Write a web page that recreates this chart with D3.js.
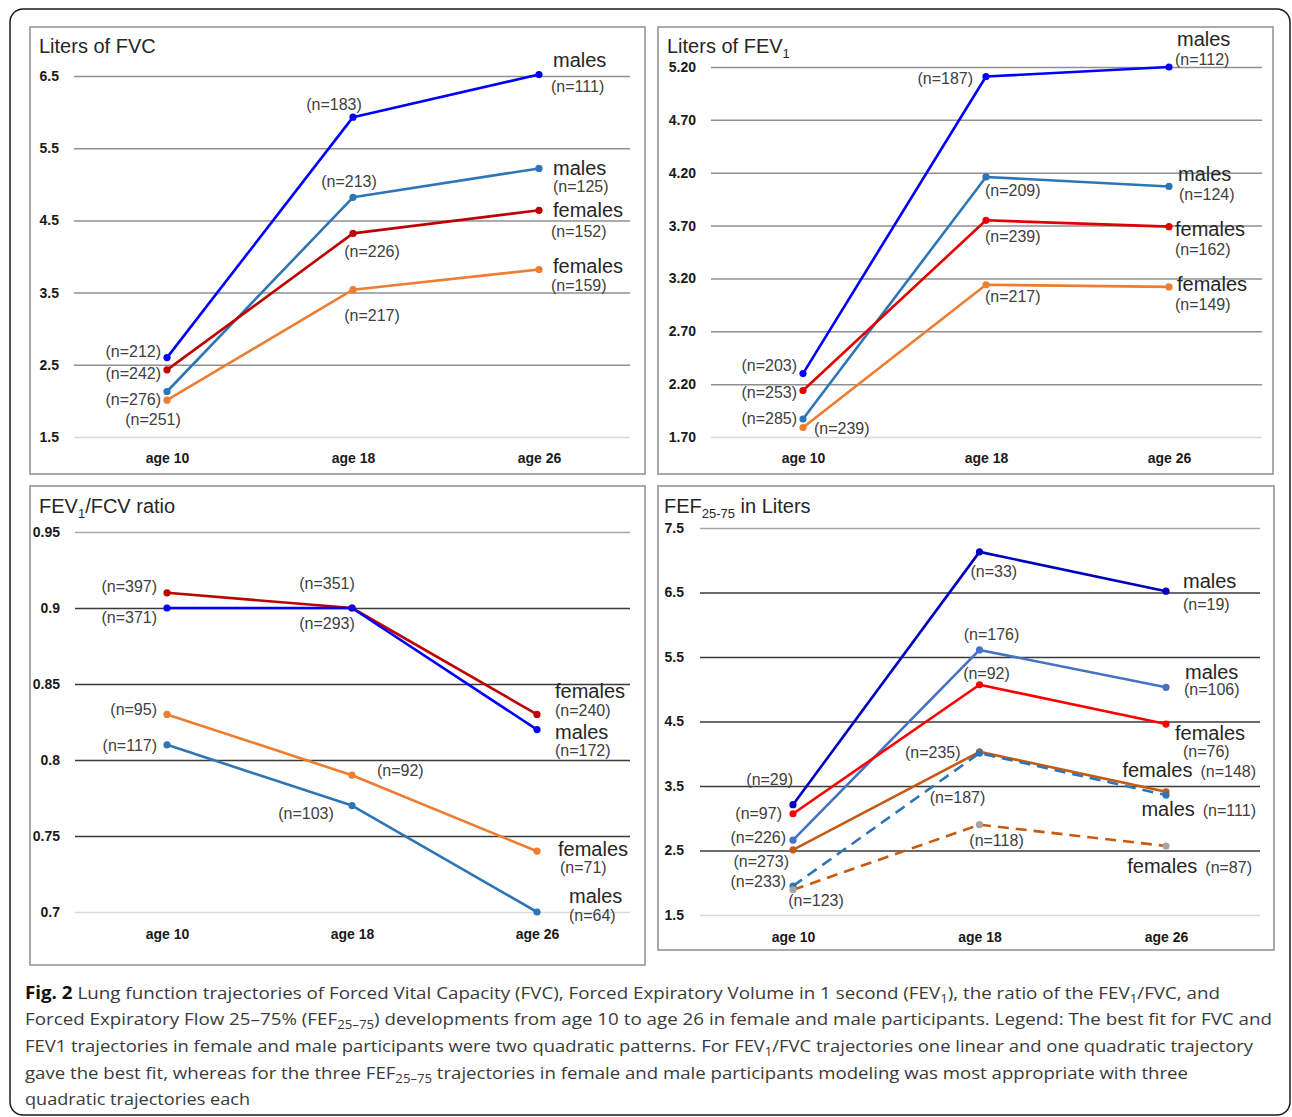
<!DOCTYPE html>
<html><head><meta charset="utf-8">
<script src="https://cdn.jsdelivr.net/npm/d3@7"></script>
<style>body{margin:0;background:#fff}svg{display:block}</style>
</head><body>
<svg id="chart" width="1292" height="1117"></svg>
<script>
// ---------------- DATA ----------------
const ages = ["age 10", "age 18", "age 26"];

// Liters of FVC
const fvcTicks = [1.5, 2.5, 3.5, 4.5, 5.5, 6.5];
const fvcMalesHigh = [2.60, 5.93, 6.52];   const fvcMalesHighN = [212, 183, 111];
const fvcMalesLow = [2.13, 4.82, 5.22];    const fvcMalesLowN = [276, 213, 125];
const fvcFemalesHigh = [2.43, 4.32, 4.64]; const fvcFemalesHighN = [242, 226, 152];
const fvcFemalesLow = [2.01, 3.54, 3.82];  const fvcFemalesLowN = [251, 217, 159];

// Liters of FEV1
const fevTicks = [1.70, 2.20, 2.70, 3.20, 3.70, 4.20, 4.70, 5.20];
const fevMalesHigh = [2.30, 5.11, 5.20];   const fevMalesHighN = [203, 187, 112];
const fevMalesLow = [1.87, 4.16, 4.07];    const fevMalesLowN = [285, 209, 124];
const fevFemalesHigh = [2.14, 3.75, 3.69]; const fevFemalesHighN = [253, 239, 162];
const fevFemalesLow = [1.79, 3.14, 3.12];  const fevFemalesLowN = [239, 217, 149];

// FEV1/FVC ratio
const ratioTicks = [0.7, 0.75, 0.8, 0.85, 0.9, 0.95];
const ratioFemalesHigh = [0.91, 0.90, 0.83]; const ratioFemalesHighN = [397, 351, 240];
const ratioMalesHigh = [0.90, 0.90, 0.82];   const ratioMalesHighN = [371, 293, 172];
const ratioFemalesLow = [0.83, 0.79, 0.74];  const ratioFemalesLowN = [95, 92, 71];
const ratioMalesLow = [0.81, 0.77, 0.70];    const ratioMalesLowN = [117, 103, 64];

// FEF25-75 in Liters
const fefTicks = [1.5, 2.5, 3.5, 4.5, 5.5, 6.5, 7.5];
const fefMalesHigh = [3.21, 7.13, 6.52];   const fefMalesHighN = [29, 33, 19];
const fefMalesMid = [2.66, 5.61, 5.03];    const fefMalesMidN = [226, 176, 106];
const fefFemalesHigh = [3.07, 5.07, 4.46]; const fefFemalesHighN = [97, 92, 76];
const fefFemalesMid = [2.51, 4.03, 3.41];  const fefFemalesMidN = [273, 235, 148];
const fefMalesLow = [1.95, 4.01, 3.36];    const fefMalesLowN = [233, 187, 111];
const fefFemalesLow = [1.89, 2.90, 2.57];  const fefFemalesLowN = [123, 118, 87];

// ---------------- DRAWING ----------------
const svg = d3.select("#chart");
const SANS = "'Liberation Sans', Arial, sans-serif";

// outer frame
svg.append("rect").attr("x", 10).attr("y", 9).attr("width", 1280).attr("height", 1106)
  .attr("rx", 13).attr("fill", "none").attr("stroke", "#1a1a1a").attr("stroke-width", 1.5);

function rich(sel, parts, subSize, shift) {
  parts.forEach(p => {
    if (p.sub) {
      sel.append("tspan").attr("font-size", subSize).attr("dy", shift).text(p.t);
    } else {
      const t = sel.append("tspan").text(p.t);
      if (p.after) t.attr("dy", -shift);
    }
  });
}

function drawPanel(p) {
  const g = svg.append("g");
  g.append("rect").attr("x", p.box[0]).attr("y", p.box[1]).attr("width", p.box[2]).attr("height", p.box[3])
    .attr("fill", "none").attr("stroke", "#8e8e8e").attr("stroke-width", 1.5);

  const x = d3.scalePoint().domain(ages).range(p.xRange);
  const y = d3.scaleLinear().domain(p.yDomain).range(p.yRange);

  // y axis with gridlines
  const ya = g.append("g").attr("transform", `translate(${p.grid[0]},0)`)
    .call(d3.axisLeft(y).tickValues(p.ticks).tickFormat(p.fmt)
      .tickSize(-(p.grid[1] - p.grid[0])).tickPadding(p.pad));
  ya.select(".domain").remove();
  const nT = p.ticks.length;
  ya.selectAll(".tick line").attr("stroke", (d, i) => p.gridColor(i, nT)).attr("stroke-width", 1.5);
  ya.selectAll(".tick text").attr("font-family", SANS).attr("font-size", 14).attr("font-weight", "bold").attr("fill", "#1a1a1a");

  // x axis labels
  const xa = g.append("g").attr("transform", `translate(0,${p.ageY})`)
    .call(d3.axisBottom(x).tickSize(0).tickPadding(0));
  xa.select(".domain").remove();
  xa.selectAll(".tick text").attr("dy", "0.35em").attr("y", 0).attr("font-family", SANS)
    .attr("font-size", 14).attr("font-weight", "bold").attr("fill", "#1a1a1a");

  // title
  const t = g.append("text").attr("x", p.title.x).attr("y", p.title.y).attr("font-family", SANS)
    .attr("font-size", 20).attr("fill", "#262626");
  rich(t, p.title.parts, 13, 5);

  const line = d3.line().x((d, i) => x(ages[i])).y(d => y(d));
  p.series.forEach(s => {
    g.append("path").datum(s.values).attr("d", line).attr("fill", "none")
      .attr("stroke", s.color).attr("stroke-width", 2.6).attr("stroke-linejoin", "round")
      .attr("stroke-dasharray", s.dash || null);
  });
  p.series.forEach(s => {
    g.selectAll(null).data(s.values).join("circle")
      .attr("cx", (d, i) => x(ages[i])).attr("cy", d => y(d)).attr("r", 3.6)
      .attr("fill", s.marker || s.color);
  });
  p.series.forEach(s => {
    s.values.forEach((v, i) => {
      const L = s.nLab[i];
      if (!L) return;
      g.append("text").attr("x", x(ages[i]) + L[1]).attr("y", y(v) + L[2])
        .attr("text-anchor", L[0]).attr("font-family", SANS).attr("font-size", 16)
        .attr("fill", "#404040").text(`(n=${s.n[i]})`);
    });
    const G = s.group;
    const last = s.values.length - 1;
    const gt = g.append("text").attr("x", x(ages[last]) + G[2]).attr("y", y(s.values[last]) + G[3])
      .attr("text-anchor", G[1]).attr("font-family", SANS).attr("font-size", 20).attr("fill", "#262626");
    gt.append("tspan").text(G[0]);
    if (G[4]) gt.append("tspan").attr("font-size", 16).attr("fill", "#404040").attr("dx", 8).text(`(n=${s.n[last]})`);
  });
}

const gridGray = (i, n) => i === 0 ? "#d9d9d9" : "#909090";
const gridDark = (i, n) => i === 0 ? "#d9d9d9" : (i === n - 1 ? "#a6a6a6" : "#3a3a3a");

// Panel 1: FVC
drawPanel({
  box: [30, 27, 615, 447], xRange: [167, 539], yDomain: [1.5, 6.5], yRange: [437, 76],
  grid: [74, 630], pad: 15, ticks: fvcTicks, fmt: d3.format(".1f"), gridColor: gridGray,
  ageY: 458, title: { x: 39, y: 53, parts: [{ t: "Liters of FVC" }] },
  series: [
    { values: fvcMalesHigh, n: fvcMalesHighN, color: "#0000ff",
      nLab: [["end", -6, -1], ["middle", -19, -7], ["start", 12, 17]], group: ["males", "start", 14, -8] },
    { values: fvcMalesLow, n: fvcMalesLowN, color: "#2e75b6",
      nLab: [["end", -6, 13], ["middle", -4, -10], ["start", 14, 24]], group: ["males", "start", 14, 7] },
    { values: fvcFemalesHigh, n: fvcFemalesHighN, color: "#c00000",
      nLab: [["end", -6, 9], ["middle", 19, 24], ["start", 12, 27]], group: ["females", "start", 14, 7] },
    { values: fvcFemalesLow, n: fvcFemalesLowN, color: "#ed7d31",
      nLab: [["middle", -14, 25], ["middle", 19, 31], ["start", 12, 22]], group: ["females", "start", 14, 4] }
  ]
});

// Panel 2: FEV1
drawPanel({
  box: [658, 27, 615, 447], xRange: [803, 1169], yDomain: [1.7, 5.2], yRange: [437, 67],
  grid: [711, 1262], pad: 15, ticks: fevTicks, fmt: d3.format(".2f"), gridColor: gridGray,
  ageY: 458, title: { x: 667, y: 53, parts: [{ t: "Liters of FEV" }, { t: "1", sub: true }] },
  series: [
    { values: fevMalesHigh, n: fevMalesHighN, color: "#0000ff",
      nLab: [["end", -6, -3], ["end", -13, 7], ["start", 6, -2]], group: ["males", "start", 8, -21] },
    { values: fevMalesLow, n: fevMalesLowN, color: "#2e75b6",
      nLab: [["end", -6, 5], ["start", -1, 19], ["start", 10, 14]], group: ["males", "start", 9, -5] },
    { values: fevFemalesHigh, n: fevFemalesHighN, color: "#e00000",
      nLab: [["end", -6, 8], ["start", -1, 22], ["start", 6, 28]], group: ["females", "start", 6, 9] },
    { values: fevFemalesLow, n: fevFemalesLowN, color: "#ed7d31",
      nLab: [["start", 11, 7], ["start", -1, 17], ["start", 6, 23]], group: ["females", "start", 8, 4] }
  ]
});

// Panel 3: ratio
drawPanel({
  box: [30, 486, 615, 479], xRange: [167, 537], yDomain: [0.7, 0.95], yRange: [912, 532],
  grid: [75, 630], pad: 15, ticks: ratioTicks, fmt: d => String(d), gridColor: gridDark,
  ageY: 934, title: { x: 39, y: 513, parts: [{ t: "FEV" }, { t: "1", sub: true }, { t: "/FCV ratio", after: true }] },
  series: [
    { values: ratioFemalesHigh, n: ratioFemalesHighN, color: "#c00000",
      nLab: [["end", -10, -1], ["middle", -25, -19], ["start", 18, 2]], group: ["females", "start", 18, -16] },
    { values: ratioMalesHigh, n: ratioMalesHighN, color: "#0000ff",
      nLab: [["end", -10, 15], ["middle", -25, 21], ["start", 18, 26]], group: ["males", "start", 18, 9] },
    { values: ratioFemalesLow, n: ratioFemalesLowN, color: "#ed7d31",
      nLab: [["end", -10, 1], ["start", 25, 1], ["start", 23, 22]], group: ["females", "start", 21, 5] },
    { values: ratioMalesLow, n: ratioMalesLowN, color: "#2e75b6",
      nLab: [["end", -10, 6], ["middle", -46, 13], ["start", 32, 9]], group: ["males", "start", 32, -9] }
  ]
});

// Panel 4: FEF25-75
drawPanel({
  box: [658, 486, 616, 464], xRange: [793, 1166], yDomain: [1.5, 7.5], yRange: [915, 528],
  grid: [700, 1260], pad: 16, ticks: fefTicks, fmt: d3.format(".1f"), gridColor: gridDark,
  ageY: 937, title: { x: 664, y: 513, parts: [{ t: "FEF" }, { t: "25-75", sub: true }, { t: " in Liters", after: true }] },
  series: [
    { values: fefMalesHigh, n: fefMalesHighN, color: "#0000c0",
      nLab: [["end", 0, -20], ["start", -9, 25], ["start", 17, 19]], group: ["males", "start", 17, -3] },
    { values: fefMalesMid, n: fefMalesMidN, color: "#4472c4",
      nLab: [["end", -7, 3], ["middle", 12, -10], ["start", 18, 8]], group: ["males", "start", 19, -8] },
    { values: fefFemalesHigh, n: fefFemalesHighN, color: "#ff0000",
      nLab: [["end", -11, 5], ["middle", 7, -6], ["start", 17, 33]], group: ["females", "start", 9, 16] },
    { values: fefFemalesMid, n: fefFemalesMidN, color: "#c55a11",
      nLab: [["end", -4, 17], ["end", -19, 6], null], group: ["females", "end", 90, -15, true] },
    { values: fefMalesLow, n: fefMalesLowN, color: "#2e75b6", dash: "11,7",
      nLab: [["end", -7, 1], ["middle", -22, 50], null], group: ["males", "end", 90, 21, true] },
    { values: fefFemalesLow, n: fefFemalesLowN, color: "#c55a11", dash: "11,7", marker: "#a5a5a5",
      nLab: [["middle", 23, 16], ["middle", 17, 21], null], group: ["females", "end", 86, 27, true] }
  ]
});

// ---------------- CAPTION ----------------
const capLines = [
  { y: 999, len: 1195, parts: [{ t: "Fig. 2", bold: true }, { t: " Lung function trajectories of Forced Vital Capacity (FVC), Forced Expiratory Volume in 1 second (FEV" }, { t: "1", sub: true }, { t: "), the ratio of the FEV", after: true }, { t: "1", sub: true }, { t: "/FVC, and", after: true }] },
  { y: 1025, len: 1247, parts: [{ t: "Forced Expiratory Flow 25–75% (FEF" }, { t: "25–75", sub: true }, { t: ") developments from age 10 to age 26 in female and male participants. Legend: The best fit for FVC and", after: true }] },
  { y: 1052, len: 1228, parts: [{ t: "FEV1 trajectories in female and male participants were two quadratic patterns. For FEV" }, { t: "1", sub: true }, { t: "/FVC trajectories one linear and one quadratic trajectory", after: true }] },
  { y: 1079, len: 1163, parts: [{ t: "gave the best fit, whereas for the three FEF" }, { t: "25–75", sub: true }, { t: " trajectories in female and male participants modeling was most appropriate with three", after: true }] },
  { y: 1105, len: 225, parts: [{ t: "quadratic trajectories each" }] }
];
capLines.forEach(L => {
  const t = svg.append("text").attr("x", 25).attr("y", L.y).attr("font-family", "'Open Sans', sans-serif")
    .attr("font-size", 17).attr("fill", "#3a3a3a")
    .attr("textLength", L.len).attr("lengthAdjust", "spacingAndGlyphs");
  L.parts.forEach(p => {
    const ts = t.append("tspan").text(p.t);
    if (p.bold) ts.attr("font-weight", "bold").attr("fill", "#111");
    if (p.sub) ts.attr("font-size", 12).attr("dy", 4);
    if (p.after) ts.attr("dy", -4);
  });
});
</script>
</body></html>
